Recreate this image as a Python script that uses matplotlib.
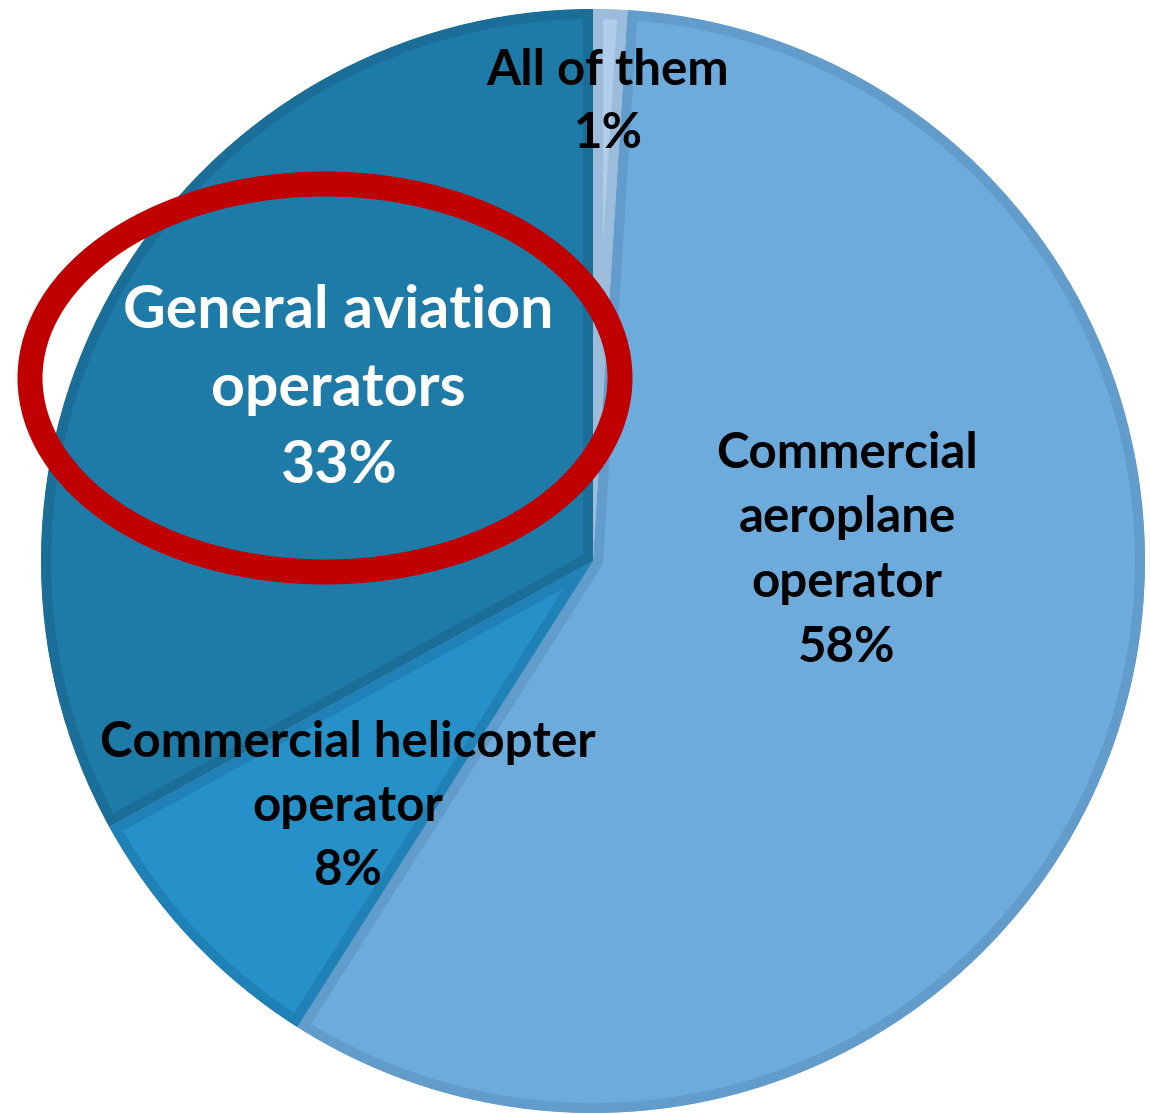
import matplotlib.pyplot as plt
from matplotlib.patches import Ellipse

# survey answers: which operator type
labels = ['All of them', 'Commercial\naeroplane\noperator',
          'Commercial helicopter\noperator', 'General aviation\noperators']
shares = [1, 58, 8, 33]
fill_colors = ['#B0CDE9', '#6DABDD', '#2690C9', '#1E7BA8']
edge_colors = ['#9BBCDA', '#619CCA', '#2081B6', '#1B6E98']
text_colors = ['black', 'black', 'black', 'white']

W, H = 1150, 1114
plt.rcParams['font.family'] = ['Lato', 'DejaVu Sans']

fig = plt.figure(figsize=(W / 100, H / 100), dpi=100)
ax = fig.add_axes([0, 0, 1, 1])

wedges, _ = ax.pie(shares, startangle=90, counterclock=False,
                   radius=552, center=(593, H - 561), colors=fill_colors)

# darker band on the inside of each slice edge
for w, ec in zip(wedges, edge_colors):
    w.set_edgecolor(ec)
    w.set_linewidth(14.4)
    w.set_joinstyle('miter')
    w.set_clip_on(True)
    w.set_clip_path(w)

ax.set_xlim(0, W)
ax.set_ylim(0, H)
ax.set_aspect('equal')
ax.axis('off')

# highlight ring around general aviation
ax.add_patch(Ellipse((325, H - 378), 590, 388, fill=False,
                     edgecolor='#C00000', linewidth=18, zorder=3))

# label text: centre x, first baseline, line step, font size
label_pos = [(608, 85, 63, 35.5), (847, 468, 64.5, 35.5),
             (348, 757, 64, 35.5), (338, 328, 77.5, 42.5)]

for lab, val, col, (x, y0, step, fs) in zip(labels, shares, text_colors, label_pos):
    lines = lab.split('\n') + [f'{val}%']
    for i, line in enumerate(lines):
        ax.text(x, H - (y0 + i * step), line, ha='center', va='baseline',
                fontsize=fs, fontweight='bold', color=col, zorder=4)

fig.savefig('out.png', dpi=100)
